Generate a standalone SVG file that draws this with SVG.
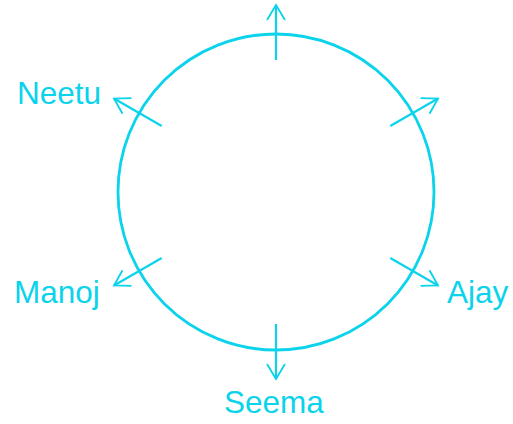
<svg xmlns="http://www.w3.org/2000/svg" width="513" height="424" viewBox="0 0 513 424">
<defs>
<style>
.c{fill:none;stroke:#0ad3eb;stroke-width:2.8}
.a{fill:none;stroke:#0ad3eb;stroke-width:2.2;marker-end:url(#ah)}
.t{font-family:"Liberation Sans",Arial,sans-serif;font-size:31.5px;fill:#0ad3eb}
</style>
<marker id="ah" markerUnits="userSpaceOnUse" markerWidth="24" markerHeight="24" viewBox="-20 -12 24 24" refX="0" refY="0" orient="auto">
<path d="M-15,-9 L0,0 L-15,9" fill="none" stroke="#0ad3eb" stroke-width="1.8"/>
</marker>
</defs>
<g id="circle"><circle class="c" cx="276" cy="192" r="158"/></g>
<g id="connectors">
<line class="a" x1="276" y1="60" x2="276" y2="5"/>
<line class="a" x1="390.3" y1="126" x2="438" y2="98.5"/>
<line class="a" x1="390.3" y1="258" x2="438" y2="285.5"/>
<line class="a" x1="276" y1="324" x2="276" y2="379"/>
<line class="a" x1="161.7" y1="258" x2="114" y2="285.5"/>
<line class="a" x1="161.7" y1="126" x2="114" y2="98.5"/>
</g>
<g id="neetu"><text class="t" x="17" y="104">Neetu</text></g>
<g id="manoj"><text class="t" x="14" y="303">Manoj</text></g>
<g id="ajay"><text class="t" x="447" y="303">Ajay</text></g>
<g id="seema"><text class="t" x="224" y="413">Seema</text></g>
</svg>
